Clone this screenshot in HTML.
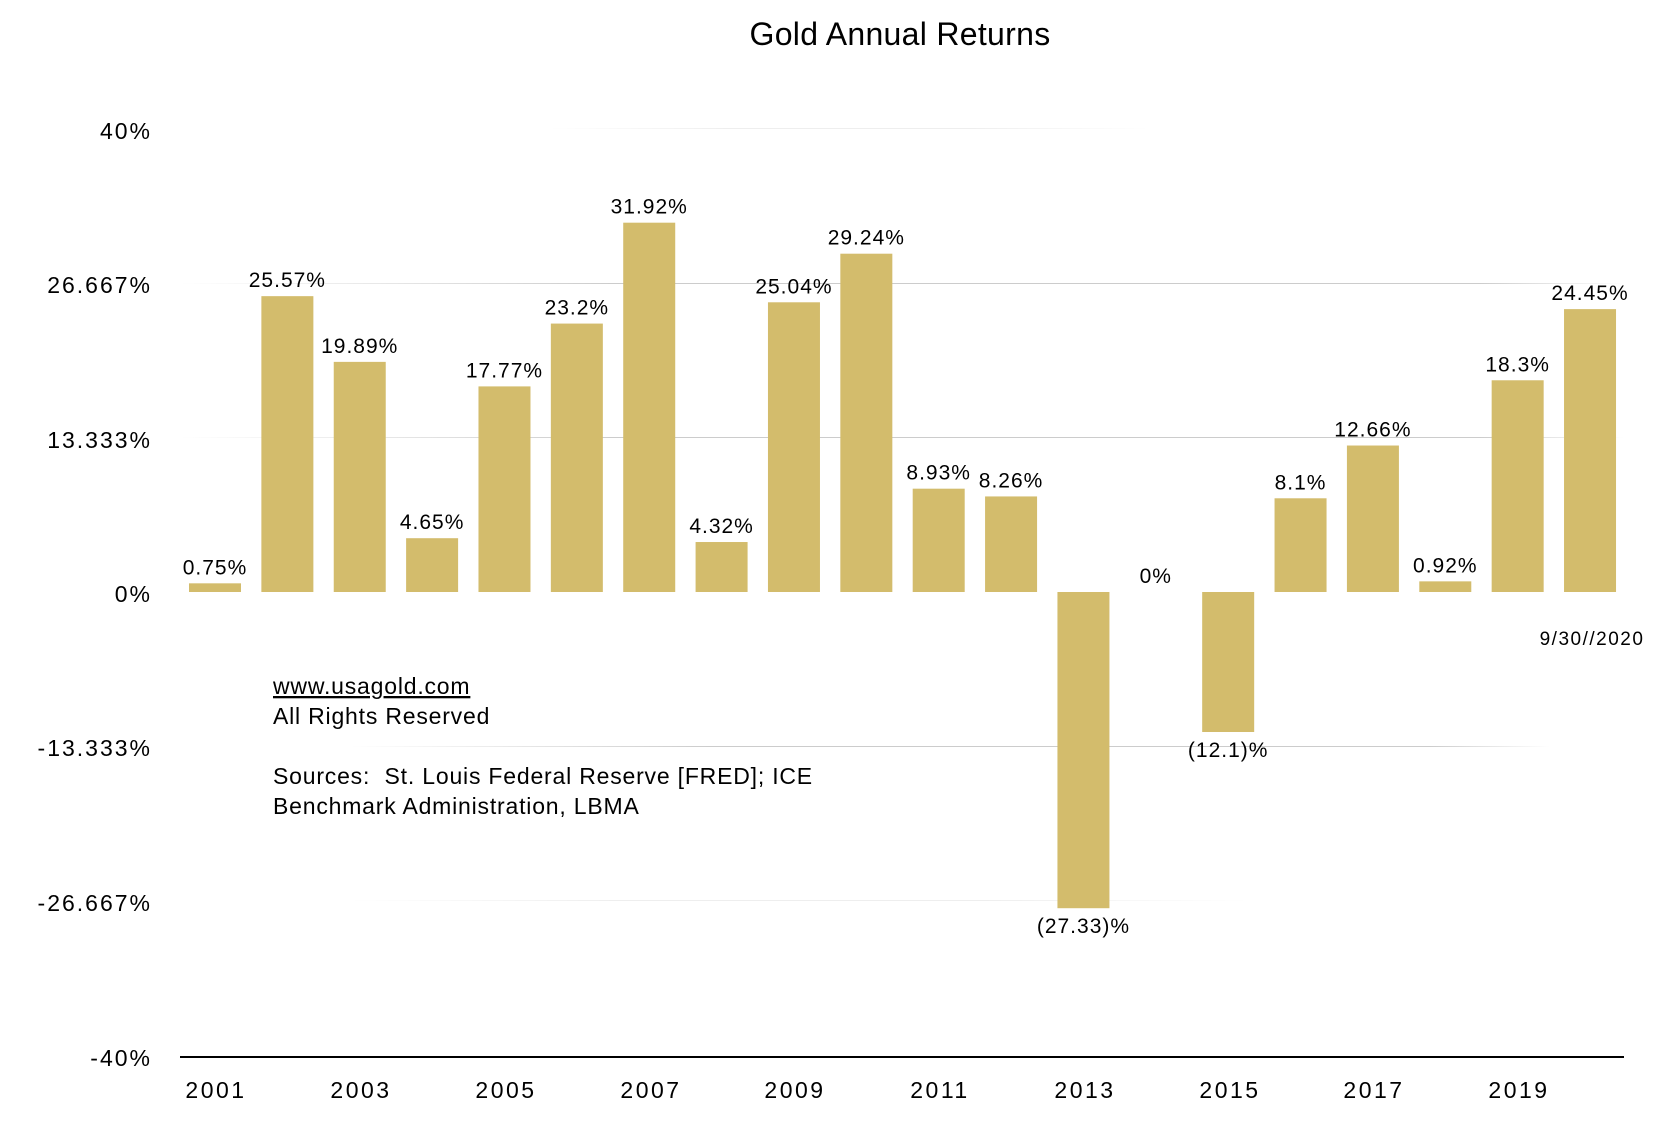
<!DOCTYPE html>
<html><head><meta charset="utf-8"><style>body{margin:0;background:#fff}svg{display:block}text{font-family:"Liberation Sans",sans-serif;fill:#000}</style></head><body>
<svg width="1680" height="1132" viewBox="0 0 1680 1132" xmlns="http://www.w3.org/2000/svg">
<defs>
<linearGradient id="g" x1="0" x2="1"><stop offset="0" stop-color="#ccc" stop-opacity="0"/><stop offset="0.3" stop-color="#ccc"/><stop offset="0.9" stop-color="#ccc"/><stop offset="1" stop-color="#ccc" stop-opacity="0"/></linearGradient>
<linearGradient id="g2" x1="0" x2="1"><stop offset="0" stop-color="#eee" stop-opacity="0"/><stop offset="0.3" stop-color="#eee"/><stop offset="0.7" stop-color="#eee"/><stop offset="1" stop-color="#eee" stop-opacity="0"/></linearGradient>
</defs>
<text x="900" y="45" font-size="32" text-anchor="middle" letter-spacing="0.3">Gold Annual Returns</text>
<rect x="550" y="128" width="600" height="1" fill="url(#g2)"/>
<rect x="180" y="283" width="1444" height="1" fill="url(#g)"/>
<rect x="180" y="437" width="1444" height="1" fill="url(#g)"/>
<rect x="350" y="746" width="1200" height="1" fill="url(#g)"/>
<rect x="350" y="900" width="900" height="1" fill="url(#g2)"/>
<rect x="180" y="1056" width="1444" height="2" fill="#000"/>
<g font-size="23" text-anchor="end" letter-spacing="2">
<text x="152" y="139">40%</text><text x="152" y="293">26.667%</text><text x="152" y="448">13.333%</text><text x="152" y="602">0%</text><text x="152" y="756">-13.333%</text><text x="152" y="911">-26.667%</text><text x="152" y="1066">-40%</text>
</g>
<g id="bars" fill="#d3bc6c"></g>
<g id="lbl" font-size="21" text-anchor="middle" letter-spacing="1"></g>
<g font-size="23" text-anchor="middle" letter-spacing="2.5">
<text x="216" y="1098">2001</text><text x="361" y="1098">2003</text><text x="506" y="1098">2005</text><text x="651" y="1098">2007</text><text x="795" y="1098">2009</text><text x="940" y="1098">2011</text><text x="1085" y="1098">2013</text><text x="1230" y="1098">2015</text><text x="1374" y="1098">2017</text><text x="1519" y="1098">2019</text>
</g>
<text x="1592" y="645" font-size="19" text-anchor="middle" letter-spacing="1.5">9/30//2020</text>
<g font-size="23" letter-spacing="0.8">
<text x="273" y="694" text-decoration="underline">www.usagold.com</text>
<text x="273" y="724">All Rights Reserved</text>
<text x="273" y="784">Sources:&#160; St. Louis Federal Reserve [FRED]; ICE</text>
<text x="273" y="814">Benchmark Administration, LBMA</text>
</g>
</svg>
<script>
var v=[0.75,25.57,19.89,4.65,17.77,23.2,31.92,4.32,25.04,29.24,8.93,8.26,-27.33,0,-12.1,8.1,12.66,0.92,18.3,24.45];
var b=document.getElementById('bars'),l=document.getElementById('lbl'),ns='http://www.w3.org/2000/svg',z=592,k=11.57;
v.forEach(function(d,i){var c=215+i*72.37;var h=Math.abs(d)*k;
var r=document.createElementNS(ns,'rect');r.setAttribute('x',c-26);r.setAttribute('width',52);r.setAttribute('y',d>=0?z-h:z);r.setAttribute('height',h);b.appendChild(r);
var t=document.createElementNS(ns,'text');t.setAttribute('x',c);t.setAttribute('y',d>=0?z-h-9:z+h+25);
t.textContent=d<0?'('+(-d)+')%':d+'%';l.appendChild(t);});
</script>
</body></html>
